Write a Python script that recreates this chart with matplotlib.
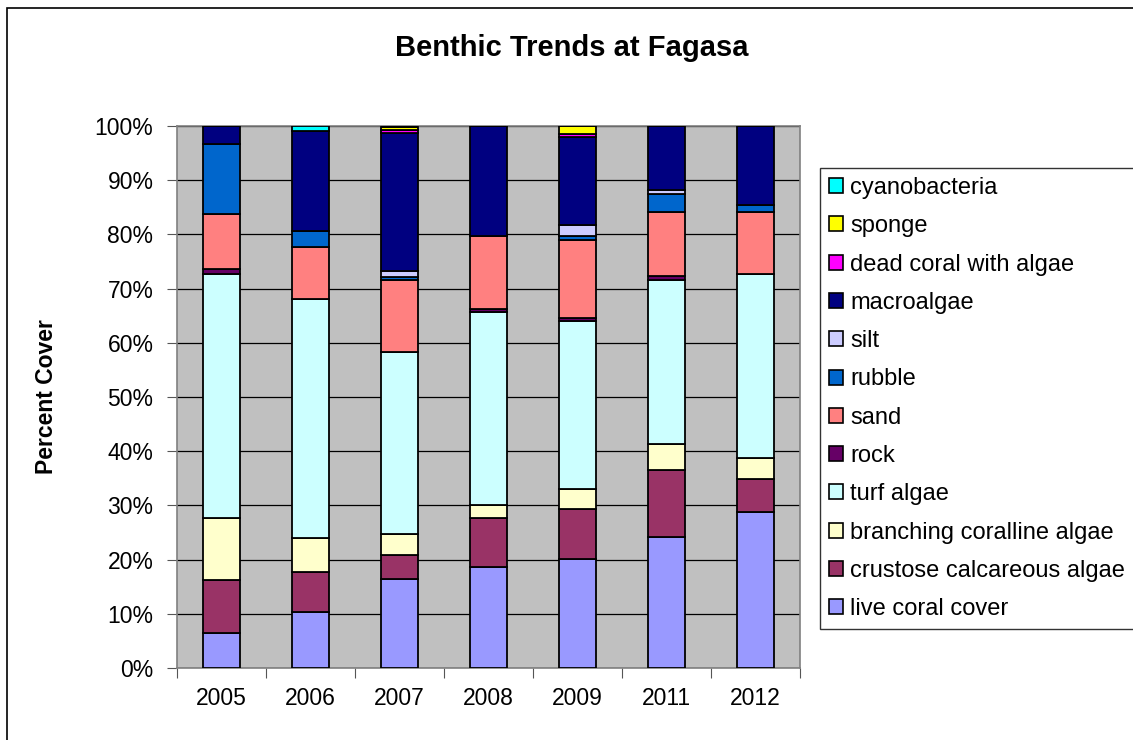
import numpy as np
import matplotlib
matplotlib.use("Agg")
import matplotlib.pyplot as plt
from matplotlib.patches import Patch, Rectangle
from matplotlib.ticker import FixedLocator, FuncFormatter

plt.rcParams['font.family'] = ['Liberation Sans', 'DejaVu Sans']

years = ['2005', '2006', '2007', '2008', '2009', '2011', '2012']

# percent cover per category, bottom to top of the stack
live_coral = [6.5, 10.4, 16.5, 18.6, 20.2, 24.2, 28.7]
crustose   = [9.75, 7.4, 4.4, 9.1, 9.1, 12.3, 6.1]
branching  = [11.45, 6.2, 3.8, 2.4, 3.7, 4.9, 4.0]
turf       = [45.0, 44.0, 33.6, 35.6, 31.0, 30.2, 33.9]
rock       = [0.9, 0.0, 0.0, 0.5, 0.5, 0.7, 0.0]
sand       = [10.2, 9.7, 13.3, 13.5, 14.5, 11.8, 11.4]
rubble     = [12.8, 3.0, 0.5, 0.0, 0.7, 3.4, 1.4]
silt       = [0.0, 0.0, 1.1, 0.0, 2.0, 0.6, 0.0]
macroalgae = [3.4, 18.4, 25.5, 20.3, 16.2, 11.9, 14.5]
dead_coral = [0.0, 0.0, 0.5, 0.0, 0.6, 0.0, 0.0]
sponge     = [0.0, 0.0, 0.7, 0.0, 1.5, 0.0, 0.0]
cyano      = [0.0, 0.9, 0.0, 0.0, 0.0, 0.0, 0.0]

series = [
    ('live coral cover', live_coral, '#9999FF'),
    ('crustose calcareous algae', crustose, '#993366'),
    ('branching coralline algae', branching, '#FFFFCC'),
    ('turf algae', turf, '#CCFFFF'),
    ('rock', rock, '#660066'),
    ('sand', sand, '#FF8080'),
    ('rubble', rubble, '#0066CC'),
    ('silt', silt, '#CCCCFF'),
    ('macroalgae', macroalgae, '#000080'),
    ('dead coral with algae', dead_coral, '#FF00FF'),
    ('sponge', sponge, '#FFFF00'),
    ('cyanobacteria', cyano, '#00FFFF'),
]

W, H = 1133, 740
fig = plt.figure(figsize=(W / 100, H / 100), dpi=100)
fig.patch.set_facecolor('white')

# outer chart frame (runs off right/bottom edge like the original)
fig.add_artist(Rectangle((7 / W, -0.1), 1.2, 1 - 8 / H + 0.1, transform=fig.transFigure,
                         fill=False, edgecolor='black', linewidth=1.2, clip_on=False))

ax = fig.add_axes([177 / W, 1 - 668 / H, (800 - 177) / W, (668 - 126) / H])
ax.set_facecolor('#C0C0C0')

x = np.arange(len(years))
bottom = np.zeros(len(years))
handles = []
for name, vals, col in series:
    vals = np.array(vals)
    ax.bar(x, vals, width=0.415, bottom=bottom, color=col, edgecolor='black',
           linewidth=1.3, zorder=3)
    bottom += vals
    handles.append(Patch(facecolor=col, edgecolor='black', linewidth=1.2, label=name))

ax.set_xlim(-0.5, len(years) - 0.5)
ax.set_ylim(0, 100)

ax.yaxis.set_major_locator(FixedLocator(np.arange(0, 101, 10)))
ax.yaxis.set_major_formatter(FuncFormatter(lambda v, p: f'{int(v)}%'))
ax.grid(axis='y', color='black', linewidth=0.9, zorder=1)
ax.set_axisbelow(True)

ax.set_xticks(np.arange(-0.5, len(years), 1.0))
ax.set_xticklabels([])
ax.set_xticks(x, minor=True)
ax.set_xticklabels(years, minor=True)
ax.tick_params(axis='x', which='major', length=7, direction='out', color='#555555')
ax.tick_params(axis='x', which='minor', length=0, pad=14, labelsize=16.5)
ax.tick_params(axis='y', length=7, direction='out', color='#555555', pad=10, labelsize=16.5)

for s in ax.spines.values():
    s.set_color('#808080')
    s.set_linewidth(1.2)

fig.text(572 / W, 1 - 48 / H, 'Benthic Trends at Fagasa', ha='center', va='center',
         fontsize=21, fontweight='bold')
fig.text(47 / W, 1 - 397 / H, 'Percent Cover', rotation=90, ha='center', va='center',
         fontsize=16.5, fontweight='bold')

leg = fig.legend(handles=handles[::-1], loc='upper left',
                 bbox_to_anchor=(820 / W, 1 - 168 / H), fontsize=17,
                 frameon=True, fancybox=False, shadow=False,
                 handlelength=0.6, handleheight=0.6, handletextpad=0.3,
                 labelspacing=0.69, borderpad=0.38, borderaxespad=0.0)
leg.get_frame().set_edgecolor('black')
leg.get_frame().set_linewidth(1.0)

fig.savefig('out.png', dpi=100)
